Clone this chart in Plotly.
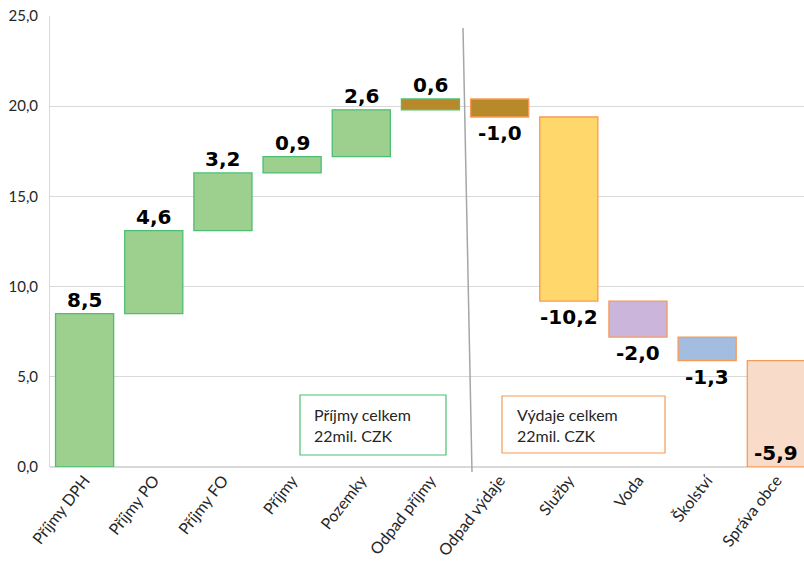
import numpy as np
import plotly.graph_objects as go

categories = ["Příjmy DPH", "Příjmy PO", "Příjmy FO", "Příjmy", "Pozemky", "Odpad příjmy",
              "Odpad výdaje", "Služby", "Voda", "Školství", "Správa obce"]
values = [8.5, 4.6, 3.2, 0.9, 2.6, 0.6, -1.0, -10.2, -2.0, -1.3, -5.9]
fill_colors = ["#9dd08f", "#9dd08f", "#9dd08f", "#9dd08f", "#9dd08f", "#b8892b",
               "#b8892b", "#ffd76a", "#cbb5da", "#a3bde0", "#f9dbc9"]
line_colors = ["#4cbf72"] * 6 + ["#f79a55"] * 5
y_ticks = [0, 5, 10, 15, 20, 25]

vals = np.array(values)
ends = np.cumsum(vals)
bases = ends - vals

W, H = 804, 574
PL, PT, PB = 50, 16, 467  # plot area in window pixels
PW = W - PL
PH = PB - PT

fig = go.Figure()
fig.add_trace(go.Bar(
    x=categories, y=values, base=bases, width=0.84,
    marker=dict(color=fill_colors, line=dict(color=line_colors, width=1.3)),
    showlegend=False, hoverinfo="skip"))

lab_font = dict(family="DejaVu Sans", size=20, color="#000000")
for i, (c, v) in enumerate(zip(categories, values)):
    txt = f"{v:.1f}".replace(".", ",")
    top = max(bases[i], ends[i])
    bot = min(bases[i], ends[i])
    if v > 0:
        fig.add_annotation(x=c, y=top, text=f"<b>{txt}</b>", showarrow=False,
                           yanchor="bottom", yshift=0, font=lab_font)
    elif bot <= 0.05:
        fig.add_annotation(x=c, y=0, text=f"<b>{txt}</b>", showarrow=False,
                           yanchor="bottom", yshift=0, font=lab_font)
    else:
        fig.add_annotation(x=c, y=bot, text=f"<b>{txt}</b>", showarrow=False,
                           yanchor="top", yshift=-2, font=lab_font)

box_font = dict(family="Lato", size=16, color="#262626")


def px_to_paper(px, py):
    return (px - PL) / PW, (PB - py) / PH


x0, y0 = px_to_paper(300, 395)
x1, y1 = px_to_paper(446, 455)
fig.add_shape(type="rect", xref="paper", yref="paper", x0=x0, x1=x1, y0=y1, y1=y0,
              line=dict(color="#4cbf72", width=1.2), fillcolor="white")
fig.add_annotation(xref="paper", yref="paper", x=px_to_paper(312, 0)[0], y=(y0 + y1) / 2,
                   xanchor="left", yanchor="middle", align="left", showarrow=False,
                   text="Příjmy celkem<br>22mil. CZK", font=box_font)

x0, y0 = px_to_paper(502, 396)
x1, y1 = px_to_paper(665, 453)
fig.add_shape(type="rect", xref="paper", yref="paper", x0=x0, x1=x1, y0=y1, y1=y0,
              line=dict(color="#f79a55", width=1.2), fillcolor="white")
fig.add_annotation(xref="paper", yref="paper", x=px_to_paper(515, 0)[0], y=(y0 + y1) / 2,
                   xanchor="left", yanchor="middle", align="left", showarrow=False,
                   text="Výdaje celkem<br>22mil. CZK", font=box_font)

# divider line
lx0, ly0 = px_to_paper(463, 28)
lx1, ly1 = px_to_paper(472, 472)
fig.add_shape(type="line", xref="paper", yref="paper", x0=lx0, y0=ly0, x1=lx1, y1=ly1,
              line=dict(color="#a6a6a6", width=1.5))

fig.update_layout(
    width=W, height=H,
    margin=dict(l=PL, r=0, t=PT, b=H - PB, autoexpand=False),
    plot_bgcolor="white", paper_bgcolor="white",
    separators=",.",
    xaxis=dict(range=[-0.5, 10.4], tickangle=-52, showgrid=False, showline=False,
               automargin=False,
               tickfont=dict(family="Lato", size=16, color="#262626"), fixedrange=True),
    yaxis=dict(range=[0, 25], tickvals=y_ticks, tickformat=".1f", showgrid=True,
               gridcolor="#d9d9d9", gridwidth=1, showline=True, linecolor="#d9d9d9",
               zeroline=True, zerolinecolor="#d9d9d9", ticks="outside", ticklen=8,
               tickcolor="rgba(0,0,0,0)", ticklabeloverflow="allow", automargin=False,
               fixedrange=True,
               tickfont=dict(family="Lato", size=15, color="#262626")),
)

fig.write_html(
    "out.html",
    config={"displayModeBar": False, "staticPlot": True},
    post_script=("document.documentElement.style.overflow='hidden';"
                 "document.body.style.margin='0';"
                 "document.body.style.overflow='hidden';"),
)
